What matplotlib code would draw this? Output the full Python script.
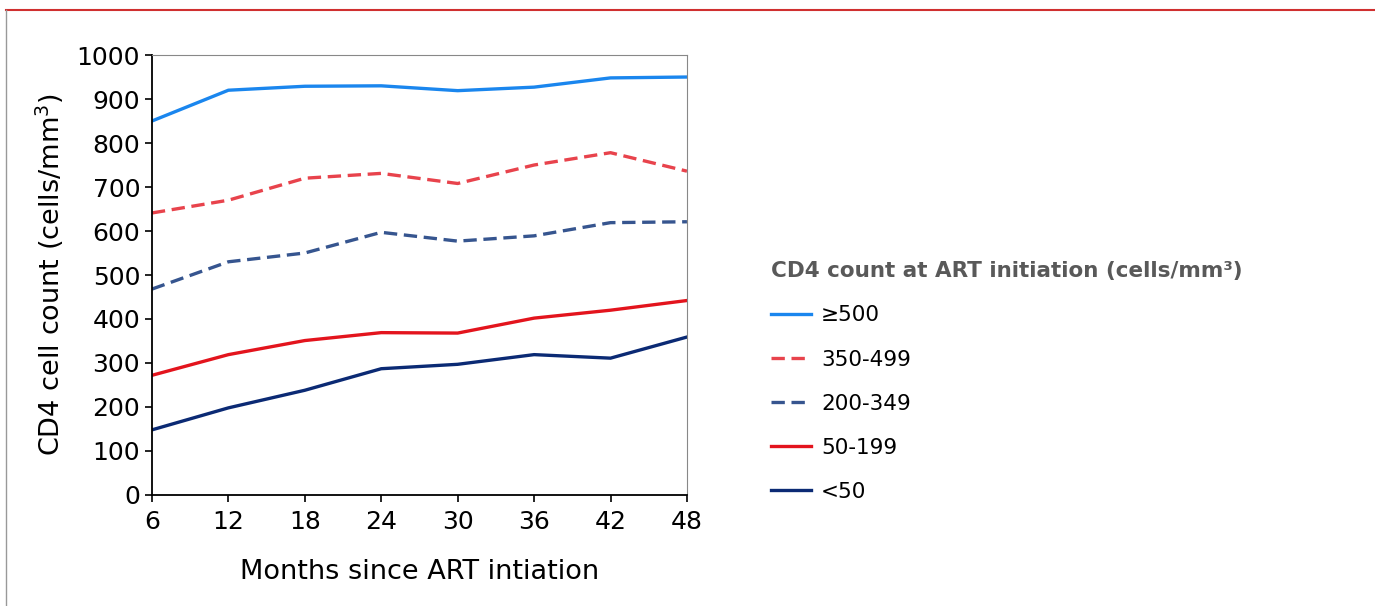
import numpy as np
import matplotlib
matplotlib.use('Agg')
import matplotlib.pyplot as plt
from matplotlib.lines import Line2D

months = [6, 12, 18, 24, 30, 36, 42, 48]
cd4_500 = [850, 920, 929, 930, 919, 927, 948, 950]
cd4_350 = [641, 670, 720, 731, 708, 750, 778, 736]
cd4_200 = [468, 530, 550, 597, 577, 589, 619, 621]
cd4_50 = [272, 319, 351, 369, 368, 402, 420, 442]
cd4_lt50 = [148, 198, 238, 287, 297, 319, 311, 359]

labels = ['≥500', '350-499', '200-349', '50-199', '<50']
yticks = list(range(0, 1001, 100))

plt.rcParams['font.family'] = ['DejaVu Sans']

fig = plt.figure(figsize=(13.75, 6.06), dpi=100)
ax = fig.add_axes([0.1105, 0.1832, 0.3891, 0.726])

lw = 2.4
ax.plot(months, cd4_500, color='#1a86ee', lw=lw, label=labels[0])
ax.plot(months, cd4_350, color='#e8434c', lw=lw, dashes=(4, 2), label=labels[1])
ax.plot(months, cd4_200, color='#36558f', lw=lw, dashes=(4, 2), label=labels[2])
ax.plot(months, cd4_50, color='#e3141d', lw=lw, label=labels[3])
ax.plot(months, cd4_lt50, color='#0b2a74', lw=lw, label=labels[4])

ax.set_xlim(6, 48)
ax.set_ylim(0, 1000)
ax.set_xticks(months)
ax.set_yticks(yticks)
ax.tick_params(axis='both', labelsize=18, length=5, width=1.2, direction='out', color='black')
ax.tick_params(axis='x', pad=6)
for s in ['top', 'right']:
    ax.spines[s].set_color('#888888')
    ax.spines[s].set_linewidth(0.8)
for s in ['left', 'bottom']:
    ax.spines[s].set_color('black')
    ax.spines[s].set_linewidth(1.3)

ax.set_xlabel('Months since ART intiation', fontsize=19.5, labelpad=18)
ax.set_ylabel('CD4 cell count (cells/mm$^3$)', fontsize=19.5, labelpad=8)

leg = ax.legend(loc='upper left', bbox_to_anchor=(1.12, 0.575), frameon=False,
                title='CD4 count at ART initiation (cells/mm³)',
                fontsize=15.5, handlelength=1.9, labelspacing=1.12,
                handletextpad=0.45, alignment='left')
leg.get_title().set_fontweight('bold')
leg.get_title().set_color('#595959')
leg.get_title().set_fontsize(15.5)

# page frame
fig.add_artist(Line2D([0.004, 1.0], [0.983, 0.983], transform=fig.transFigure,
                      color='#d03030', lw=1.5))
fig.add_artist(Line2D([0.004, 0.004], [0.0, 0.983], transform=fig.transFigure,
                      color='#999999', lw=1.0))

fig.savefig('out.png', dpi=100)
